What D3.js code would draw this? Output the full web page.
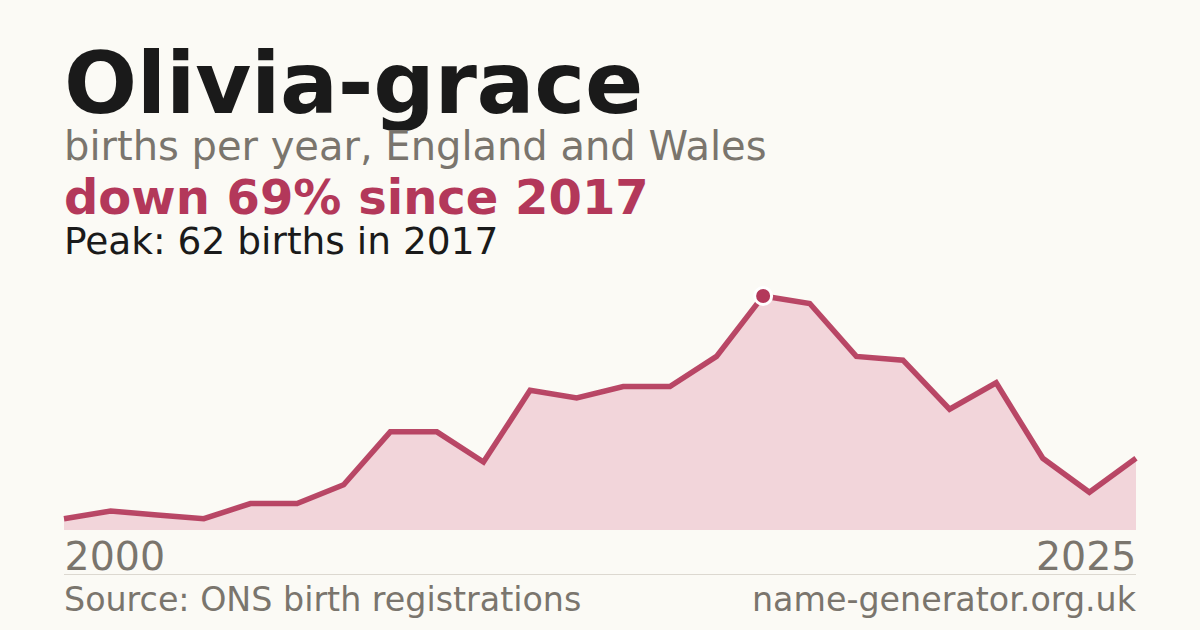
<!DOCTYPE html>
<html>
<head>
<meta charset="utf-8">
<script src="https://cdn.jsdelivr.net/npm/d3@7"></script>
<style>
  html, body { margin: 0; padding: 0; background: #fbfaf5; }
  svg { display: block; }
  text { font-family: "DejaVu Sans", sans-serif; }
</style>
</head>
<body>
<svg id="chart" width="1200" height="630"></svg>
<script>
// ---- data ----
const years = [2002, 2003, 2004, 2005, 2006, 2007, 2008, 2009, 2010, 2011, 2012, 2013,
               2014, 2015, 2016, 2017, 2018, 2019, 2020, 2021, 2022, 2023, 2024, 2025];
const births = [3, 5, 4, 3, 7, 7, 12, 26, 26, 18, 37, 35,
                38, 38, 46, 62, 60, 46, 45, 32, 39, 19, 10, 19];
const tickLabels = ["2000", "2025"];
const titleText = "Olivia-grace";
const subtitleText = "births per year, England and Wales";
const changeText = "down 69% since 2017";
const peakText = "Peak: 62 births in 2017";
const sourceText = "Source: ONS birth registrations";
const siteText = "name-generator.org.uk";

// ---- layout ----
const W = 1200, H = 630;
const left = 64, right = 1136;
const red = "#b3385a";
const grey = "#7a756d";

const svg = d3.select("#chart");
svg.append("rect").attr("width", W).attr("height", H).attr("fill", "#fbfaf5");

const data = years.map((y, i) => ({ year: y, value: births[i] }));

const x = d3.scaleLinear().domain(d3.extent(years)).range([left, right]);
const y = d3.scaleLinear().domain([0, d3.max(births)]).range([530, 296]);

// area
const area = d3.area()
  .x(d => x(d.year))
  .y0(y(0))
  .y1(d => y(d.value));
svg.append("path").datum(data)
  .attr("d", area)
  .attr("fill", "#f2d5da");

// line
const line = d3.line()
  .x(d => x(d.year))
  .y(d => y(d.value));
svg.append("path").datum(data)
  .attr("d", line)
  .attr("fill", "none")
  .attr("stroke", red)
  .attr("stroke-opacity", 0.92)
  .attr("stroke-width", 5.5)
  .attr("stroke-linejoin", "miter");

// peak marker
const peak = data.reduce((a, b) => (b.value > a.value ? b : a));
svg.append("circle")
  .attr("cx", x(peak.year))
  .attr("cy", y(peak.value))
  .attr("r", 8.5)
  .attr("fill", red)
  .attr("stroke", "#ffffff")
  .attr("stroke-width", 3);

// text header
svg.append("text").attr("x", left).attr("y", 113)
  .attr("font-size", 86).attr("font-weight", "bold")
  .attr("letter-spacing", -0.3)
  .attr("fill", "#1a1a1a").text(titleText);
svg.append("text").attr("x", left).attr("y", 160)
  .attr("font-size", 40).attr("fill", grey).text(subtitleText);
svg.append("text").attr("x", left).attr("y", 214)
  .attr("font-size", 48).attr("font-weight", "bold")
  .attr("fill", red).text(changeText);
svg.append("text").attr("x", left).attr("y", 254)
  .attr("font-size", 37.5).attr("fill", "#1a1a1a").text(peakText);

// x axis end labels
const xAxis = d3.axisBottom(x)
  .tickValues(d3.extent(years))
  .tickFormat((d, i) => tickLabels[i])
  .tickSize(0);
const gx = svg.append("g").attr("transform", `translate(0, 530)`).call(xAxis);
gx.select(".domain").remove();
gx.selectAll("text")
  .attr("y", 0).attr("dy", 40)
  .attr("font-size", 39.5)
  .attr("font-family", "DejaVu Sans, sans-serif")
  .attr("fill", grey)
  .attr("text-anchor", (d, i) => (i === 0 ? "start" : "end"));

// divider
svg.append("line")
  .attr("x1", left).attr("x2", right)
  .attr("y1", 574.5).attr("y2", 574.5)
  .attr("stroke", "#dcd8d0").attr("stroke-width", 1);

// footer
svg.append("text").attr("x", left).attr("y", 611)
  .attr("font-size", 33.3).attr("fill", grey).text(sourceText);
svg.append("text").attr("x", right).attr("y", 611)
  .attr("text-anchor", "end")
  .attr("font-size", 33.3).attr("fill", grey).text(siteText);
</script>
</body>
</html>
